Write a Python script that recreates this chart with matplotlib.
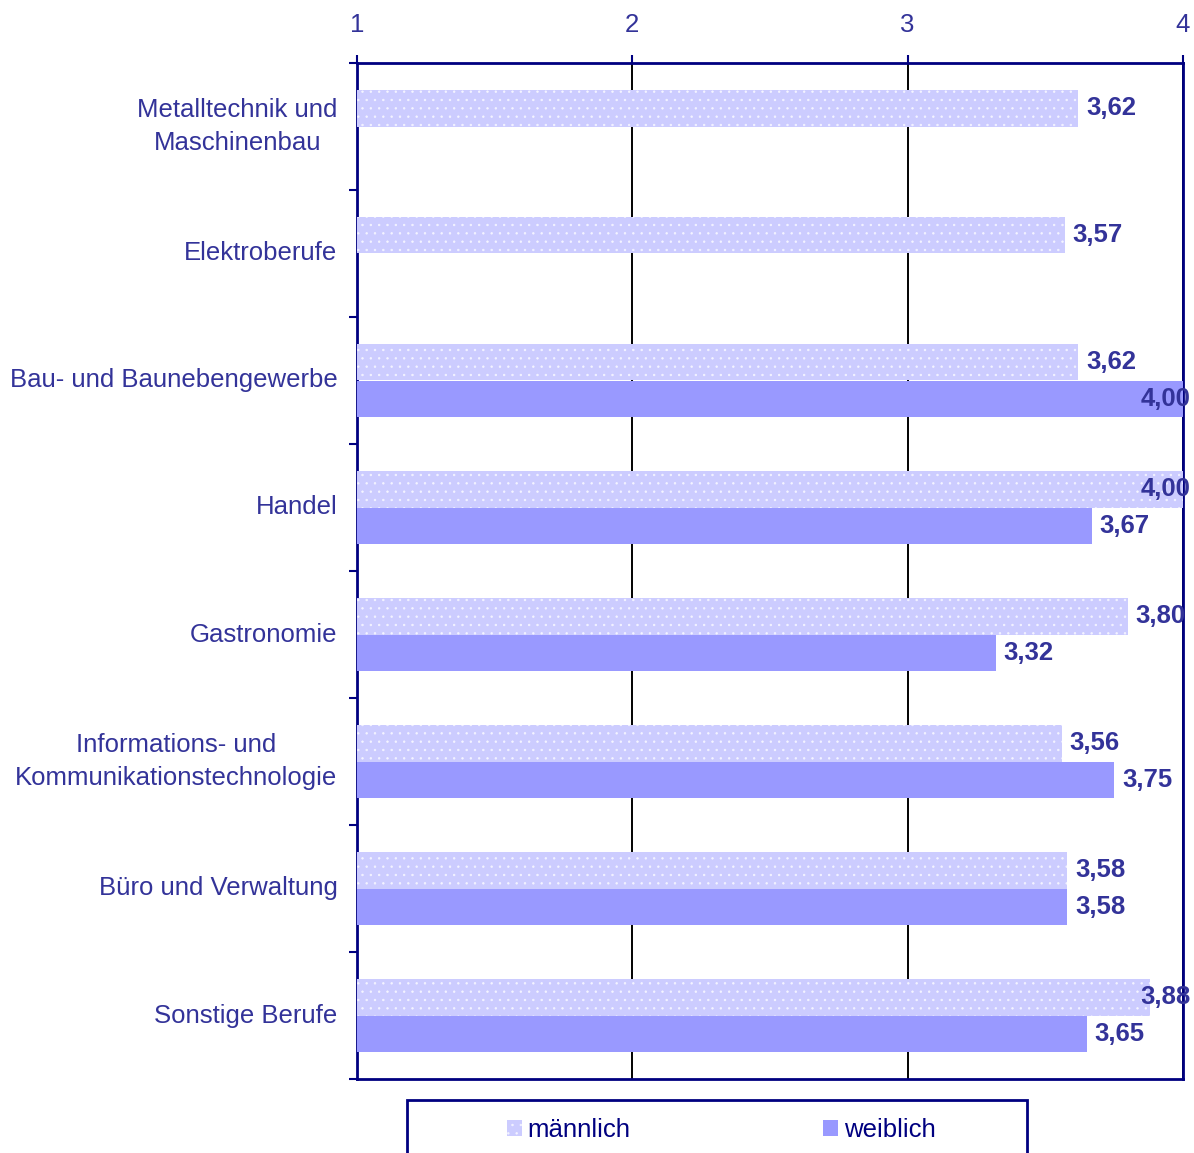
import matplotlib

matplotlib.use("Agg")
import matplotlib.pyplot as plt
import numpy as np
from matplotlib.patches import Rectangle
from matplotlib.ticker import FixedLocator

plt.rcParams["font.family"] = ["Liberation Sans", "DejaVu Sans"]
plt.rcParams["hatch.linewidth"] = 0.5

categories = [
    "Metalltechnik und\nMaschinenbau",
    "Elektroberufe",
    "Bau- und Baunebengewerbe",
    "Handel",
    "Gastronomie",
    "Informations- und\nKommunikationstechnologie",
    "Büro und Verwaltung",
    "Sonstige Berufe",
]
maennlich = [3.62, 3.57, 3.62, 4.00, 3.80, 3.56, 3.58, 3.88]
weiblich = [np.nan, np.nan, 4.00, 3.67, 3.32, 3.75, 3.58, 3.65]
series_names = ["männlich", "weiblich"]
x_ticks = [1, 2, 3, 4]

navy = "#000080"
label_col = "#333399"
c_m = "#CCCCFF"
c_w = "#9999FF"
fs = 18.5

fig = plt.figure(figsize=(11.94, 11.53), dpi=100)
ax = fig.add_axes([357 / 1194, 1 - 1079 / 1153, 826 / 1194, 1016 / 1153])

y = np.arange(len(categories))
h = 0.29
bm = ax.barh(y - h / 2, maennlich, height=h, color=c_m, edgecolor="#F4F4FF",
             linewidth=0, hatch="..", label=series_names[0], zorder=3)
bw = ax.barh(y + h / 2, weiblich, height=h, color=c_w, linewidth=0,
             label=series_names[1], zorder=3)

ax.set_xlim(1, 4)
ax.set_ylim(len(categories) - 0.5, -0.5)

# Werte an den Balken
for vals, off in [(maennlich, -h / 2), (weiblich, h / 2)]:
    for i, v in enumerate(vals):
        if np.isnan(v):
            continue
        xt = min(v + 0.028, 3.845)
        ax.text(xt, i + off, f"{v:.2f}".replace(".", ","), ha="left",
                va="center", fontsize=fs, fontweight="bold", color=label_col,
                zorder=5)

# x-Achse oben
ax.xaxis.tick_top()
ax.set_xticks(x_ticks)
ax.set_xticklabels([str(t) for t in x_ticks])
ax.tick_params(axis="x", direction="out", length=6, width=1.5, color=navy,
               labelcolor=label_col, labelsize=fs, pad=13)
ax.grid(axis="x", color="black", linewidth=1.4, zorder=1)

# y-Achse
ax.set_yticks(y)
ax.set_yticklabels(categories, multialignment="center", linespacing=1.5,
                   va="center")
ax.tick_params(axis="y", which="major", length=0, labelsize=fs,
               labelcolor=label_col, pad=14)
ax.yaxis.set_minor_locator(FixedLocator(np.arange(-0.5, len(categories), 1)))
ax.tick_params(axis="y", which="minor", direction="out", length=6, width=1.5,
               color=navy)

for s in ax.spines.values():
    s.set_color(navy)
    s.set_linewidth(2)

# Legende
fig.patches.append(Rectangle((407 / 1194, -0.02), 620 / 1194, 0.02 + 1 - 1100 / 1153,
                             transform=fig.transFigure, fill=False,
                             edgecolor=navy, linewidth=2))
fig.legend(handles=[bm, bw], loc="center", bbox_to_anchor=(721 / 1194, 1 - 1130 / 1153),
           ncol=2, frameon=False, fontsize=fs, handlelength=0.6, handleheight=0.6,
           handletextpad=0.2, columnspacing=7.5, labelcolor=navy)

fig.savefig("out.png", dpi=100)
